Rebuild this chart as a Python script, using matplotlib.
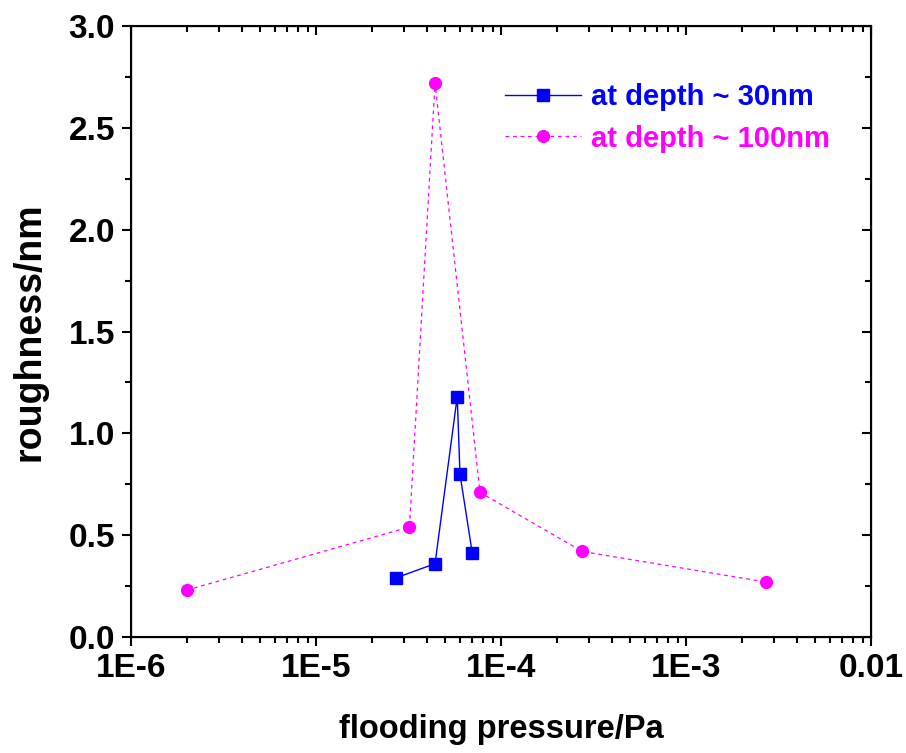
import matplotlib
matplotlib.use("Agg")
from matplotlib import pyplot as plt
from matplotlib.ticker import FixedLocator, FixedFormatter, MultipleLocator, LogLocator, NullFormatter

plt.rcParams["font.family"] = ["Liberation Sans", "DejaVu Sans"]
plt.rcParams["font.weight"] = "bold"

# data
pressure_30nm = [2.7e-5, 4.4e-5, 5.8e-5, 6.0e-5, 7.0e-5]
roughness_30nm = [0.29, 0.36, 1.18, 0.80, 0.41]

pressure_100nm = [2.0e-6, 3.2e-5, 4.4e-5, 7.7e-5, 2.75e-4, 2.7e-3]
roughness_100nm = [0.23, 0.54, 2.72, 0.71, 0.42, 0.27]

x_ticks = [1e-6, 1e-5, 1e-4, 1e-3, 1e-2]
x_tick_labels = ["1E-6", "1E-5", "1E-4", "1E-3", "0.01"]

BLUE = "#0000ff"
MAGENTA = "#ff00ff"

fig = plt.figure(figsize=(9.06, 7.53), dpi=100)
ax = fig.add_axes([131 / 906, 116 / 753, 740 / 906, 611 / 753])

ax.plot(pressure_30nm, roughness_30nm, color=BLUE, linewidth=1.0,
        marker="s", markersize=8.5, label="at depth ~ 30nm")
ax.plot(pressure_100nm, roughness_100nm, color=MAGENTA, linewidth=0.9,
        linestyle=(0, (3, 3)), marker="o", markersize=8.5,
        label="at depth ~ 100nm")

ax.set_xscale("log")
ax.set_xlim(1e-6, 1e-2)
ax.set_ylim(0, 3.0)

ax.xaxis.set_major_locator(FixedLocator(x_ticks))
ax.xaxis.set_major_formatter(FixedFormatter(x_tick_labels))
ax.xaxis.set_minor_locator(LogLocator(base=10, subs=range(2, 10)))
ax.xaxis.set_minor_formatter(NullFormatter())
ax.yaxis.set_major_locator(MultipleLocator(0.5))
ax.yaxis.set_minor_locator(MultipleLocator(0.25))
ax.yaxis.set_major_formatter(matplotlib.ticker.FormatStrFormatter("%.1f"))

for side in ax.spines.values():
    side.set_linewidth(1.5)
ax.tick_params(which="major", length=6.5, width=1.5, labelsize=24, pad=5)
ax.tick_params(which="minor", length=4, width=1.5)

# inward ticks on top and right
top = ax.twiny()
top.set_xscale("log")
top.set_xlim(ax.get_xlim())
top.xaxis.set_major_locator(FixedLocator(x_ticks))
top.xaxis.set_minor_locator(LogLocator(base=10, subs=range(2, 10)))
top.tick_params(which="both", direction="in", labeltop=False, width=1.5)
top.tick_params(which="major", length=6.5)
top.tick_params(which="minor", length=4)

right = ax.twinx()
right.set_ylim(ax.get_ylim())
right.yaxis.set_major_locator(MultipleLocator(0.5))
right.yaxis.set_minor_locator(MultipleLocator(0.25))
right.tick_params(which="both", direction="in", labelright=False, width=1.5)
right.tick_params(which="major", length=6.5)
right.tick_params(which="minor", length=4)

ax.set_xlabel("flooding pressure/Pa", fontsize=23.5, fontweight="bold")
ax.xaxis.set_label_coords(0.5, -(714 - 637) / 611)
ax.set_ylabel("roughness/nm", fontsize=27, fontweight="bold")
ax.yaxis.set_label_coords(-(131 - 47) / 740, 0.5)

leg = ax.legend(loc="upper left", bbox_to_anchor=(0.49, 0.925), frameon=False,
                fontsize=21, handlelength=2.6, handletextpad=0.35,
                labelspacing=0.45, borderaxespad=0)
for text, color in zip(leg.get_texts(), [BLUE, MAGENTA]):
    text.set_color(color)
    text.set_fontweight("bold")

fig.savefig("out.png", dpi=100)
